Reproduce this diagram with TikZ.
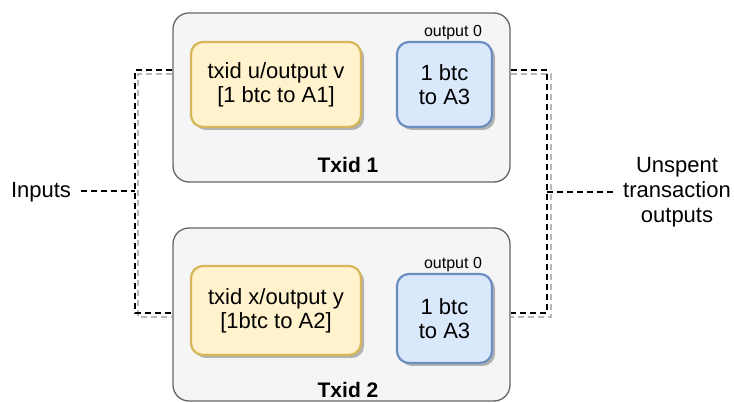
\documentclass[tikz,border=0pt]{standalone}
\usepackage{fontspec}
\setmainfont{Liberation Sans}
\usetikzlibrary{shadows,calc}
\definecolor{contdraw}{HTML}{666666}
\definecolor{contfill}{HTML}{F5F5F5}
\definecolor{ydraw}{HTML}{D6B656}
\definecolor{yfill}{HTML}{FFF2CC}
\definecolor{bdraw}{HTML}{6C8EBF}
\definecolor{bfill}{HTML}{DAE8FC}
\tikzset{
  container/.style={draw=contdraw, fill=contfill, line width=1.3pt, rounded corners=16pt, inner sep=0pt},
  boxshadow/.style={drop shadow={shadow xshift=3pt, shadow yshift=-3pt, fill=black!30, opacity=1}},
  ybox/.style={draw=ydraw, fill=yfill, line width=2.2pt, rounded corners=12pt, boxshadow, align=center, inner sep=0pt,
    font=\fontsize{22}{24}\selectfont},
  bbox/.style={draw=bdraw, fill=bfill, line width=2.2pt, rounded corners=12pt, boxshadow, align=center, inner sep=0pt,
    font=\fontsize{22}{24}\selectfont},
  smalllabel/.style={font=\fontsize{16}{18}\selectfont, inner sep=0pt},
  titlelabel/.style={font=\bfseries\fontsize{21}{24}\selectfont, inner sep=0pt},
  sidelabel/.style={font=\fontsize{22}{25}\selectfont, align=center, inner sep=0pt},
  brace/.style={draw=black, line width=1.5pt, dash pattern=on 6pt off 4pt},
  braceshadow/.style={draw=black!28, line width=1.5pt, dash pattern=on 6pt off 4pt},
}
\begin{document}
\begin{tikzpicture}[x=1pt,y=-1pt]
\useasboundingbox (0,0) rectangle (734,403);
% containers
\node[container, minimum width=337pt, minimum height=169pt] (c1) at (341.5,97.5) {};
\node[container, minimum width=337pt, minimum height=173pt] (c2) at (341.5,314.5) {};
% inner boxes
\node[ybox, minimum width=170pt, minimum height=85pt] (y1) at (276,84.5) {txid u/output v\\{}[1 btc to A1]};
\node[bbox, minimum width=95pt, minimum height=85pt] (b1) at (444.5,84.5) {1 btc\\to A3};
\node[ybox, minimum width=170pt, minimum height=89pt] (y2) at (276,310.5) {txid x/output y\\{}[1btc to A2]};
\node[bbox, minimum width=95pt, minimum height=89pt] (b2) at (444.5,318.5) {1 btc\\to A3};
% labels
\node[smalllabel] (o1) at (453,33) {output 0};
\node[smalllabel] (o2) at (453,265) {output 0};
\node[titlelabel] (t1) at (348,165) {Txid 1};
\node[titlelabel] (t2) at (348,390) {Txid 2};
\node[sidelabel] (inp) at (41,192) {Inputs};
\node[sidelabel] (uto) at (677,192) {Unspent\\transaction\\outputs};
% bracket coordinates
\coordinate (la) at (c1.west |- 0,70);
\coordinate (lb) at (135,70);
\coordinate (lc) at (135,313);
\coordinate (ld) at (c2.west |- 0,313);
\coordinate (lm) at (135,191);
\coordinate (ra) at (c1.east |- 0,70);
\coordinate (rb) at (547,70);
\coordinate (rc) at (547,313);
\coordinate (rd) at (c2.east |- 0,313);
\coordinate (rm) at (547,192);
% bracket shadows
\draw[braceshadow] ($(la)+(0,4)$) -- ($(lb)+(3,4)$) -- ($(lc)+(3,4)$) -- ($(ld)+(0,4)$);
\draw[braceshadow] ($(ra)+(0,4)$) -- ($(rb)+(4,4)$) -- ($(rc)+(4,4)$) -- ($(rd)+(0,4)$);
% brackets
\draw[brace] (la) -- (lb) -- (lc) -- (ld);
\draw[brace] (ra) -- (rb) -- (rc) -- (rd);
\draw[brace] ($(inp.east)+(10,-1)$) -- (lm);
\draw[brace] (rm) -- ($(uto.west)+(-6,0)$);
\end{tikzpicture}
\end{document}
